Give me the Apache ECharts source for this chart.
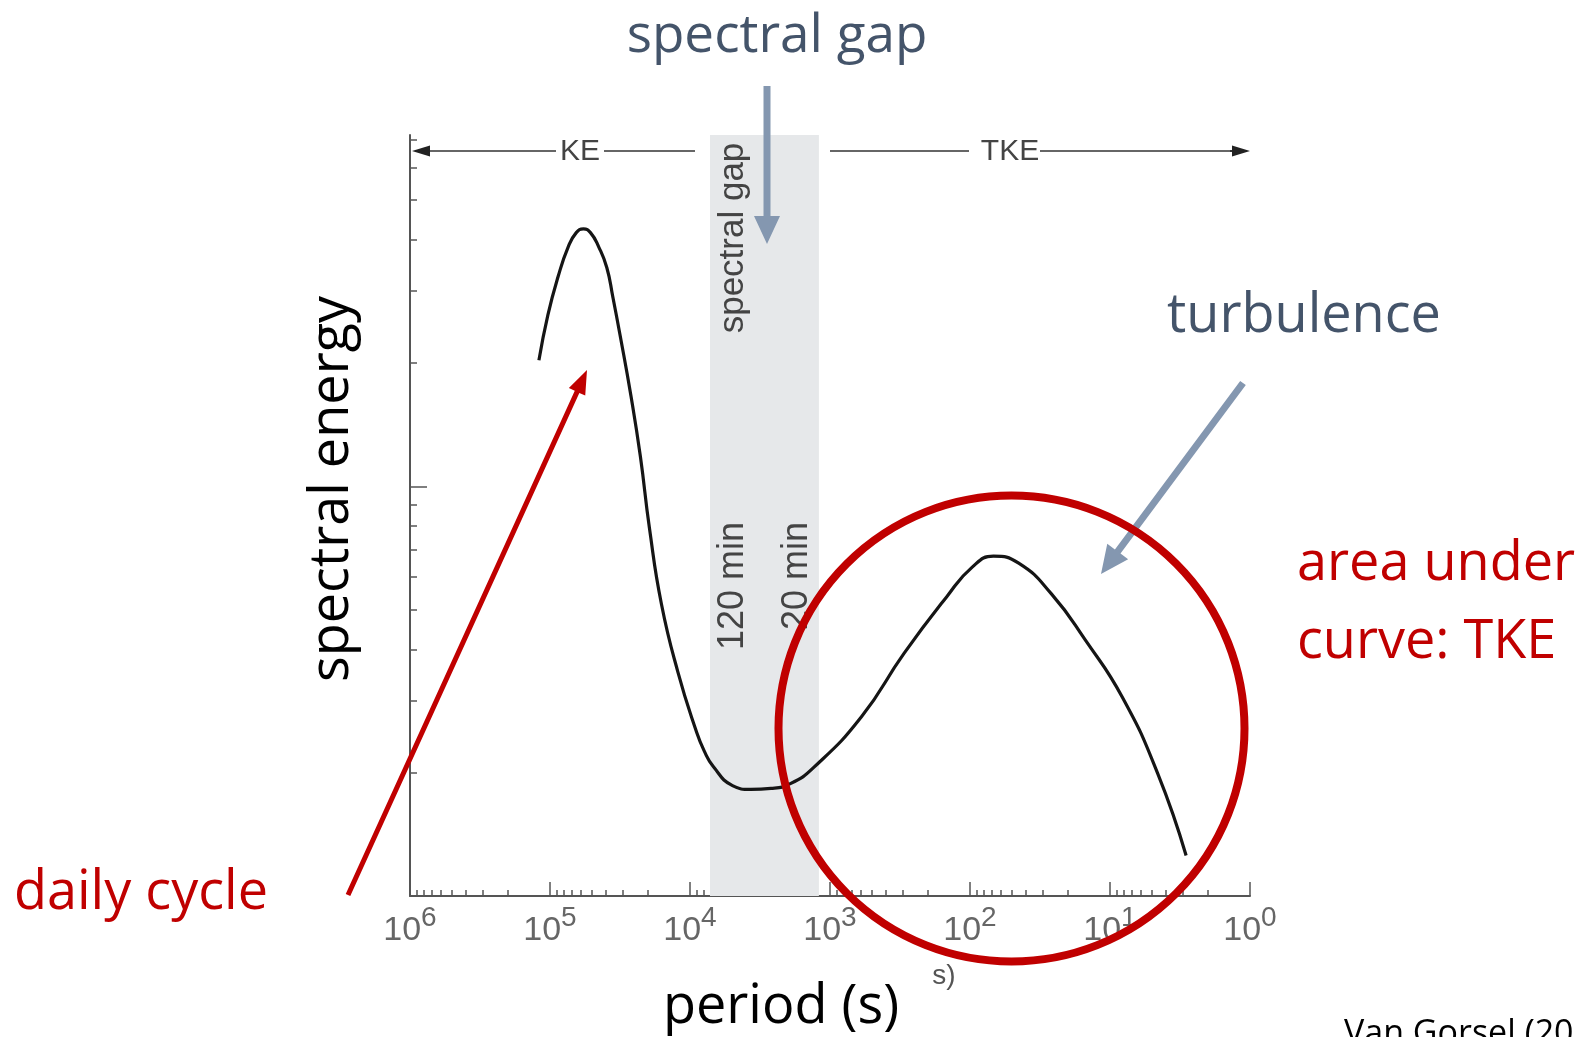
<!DOCTYPE html>
<html>
<head>
<meta charset="utf-8">
<script src="https://cdn.jsdelivr.net/npm/echarts@6/dist/echarts.min.js"></script>
<style>
    html, body { margin: 0; padding: 0; background: #fff; }
    #chart { width: 1591px; height: 1037px; }
</style>
</head>
<body>
<div id="chart"></div>
<script>
(function () {
    'use strict';

    // period (s) and spectral energy
    var periods = [120000, 103500, 87500, 74100, 64900, 57700, 51400, 44900, 39300, 35600,
        31600, 26400, 22600, 19500, 16000, 12200, 9040, 7920, 6820, 4970,
        3670, 2640, 1920, 1306, 596, 296, 147, 96.8, 68.1, 44.9,
        26.3, 14.9, 8.18, 4.56, 2.86];
    var energy = [20.3, 26.2, 32.5, 38.4, 41.6, 42.5, 41.6, 38.4, 34.2, 29.0,
        23.4, 16.6, 11.8, 7.92, 5.16, 3.52, 2.53, 2.26, 2.07, 1.86,
        1.82, 1.83, 1.88, 2.06, 2.74, 3.91, 5.37, 6.34, 6.75, 6.49,
        5.47, 4.20, 3.06, 1.99, 1.256];

    // spectral gap: 120 min .. 20 min
    var gapBand = [7200, 1200];

    var xDecades = [1000000, 100000, 10000, 1000, 100, 10, 1];
    var xMantissa = [2, 3, 4, 5, 6, 7, 8, 9];
    var yMajorTicks = [10];
    var yMinorTicks = [2, 3, 4, 5, 6, 7, 8, 9, 20, 30, 40, 50, 60, 70];

    var SLATE = '#44546A';
    var ARROW_BLUE = '#8497B0';
    var RED = '#C00000';
    var SCAN = '#444';

    var xMinorTicks = [];
    xDecades.forEach(function (d) {
        if (d >= 1000000) {
            return;
        }
        xMantissa.forEach(function (m) {
            xMinorTicks.push(m * d);
        });
    });

    var curve = periods.map(function (p, i) {
        return [p, energy[i]];
    });

    function arrowPoints(x1, y1, x2, y2, w, hw, hl) {
        var len = Math.sqrt((x2 - x1) * (x2 - x1) + (y2 - y1) * (y2 - y1));
        var ux = (x2 - x1) / len, uy = (y2 - y1) / len;
        var px = -uy, py = ux;
        var bx = x2 - ux * hl, by = y2 - uy * hl;
        return [
            [x1 + px * w / 2, y1 + py * w / 2],
            [bx + px * w / 2, by + py * w / 2],
            [bx + px * hw / 2, by + py * hw / 2],
            [x2, y2],
            [bx - px * hw / 2, by - py * hw / 2],
            [bx - px * w / 2, by - py * w / 2],
            [x1 - px * w / 2, y1 - py * w / 2]
        ];
    }

    function arrow(x1, y1, x2, y2, w, hw, hl, color) {
        return {
            type: 'polygon',
            z: 100,
            shape: { points: arrowPoints(x1, y1, x2, y2, w, hw, hl) },
            style: { fill: color, stroke: null }
        };
    }

    function label(text, x, y, size, color, opts) {
        opts = opts || {};
        return {
            type: 'text',
            z: opts.z || 100,
            x: x,
            y: y,
            rotation: opts.rotation || 0,
            style: {
                text: text,
                fill: color,
                fontSize: size,
                fontFamily: opts.family || '"Open Sans", sans-serif',
                align: opts.align || 'center',
                verticalAlign: opts.valign || 'middle'
            }
        };
    }

    function hline(x1, x2, y) {
        return {
            type: 'line',
            z: 50,
            shape: { x1: x1, y1: y, x2: x2, y2: y },
            style: { stroke: '#333', lineWidth: 1.6 }
        };
    }

    var scanFont = '"Liberation Sans", Arial, sans-serif';

    var graphics = [
        // KE / TKE row
        hline(420, 556, 151),
        arrow(430, 151, 412, 151, 1.6, 11, 18, '#222'),
        label('KE', 580, 152, 30, SCAN, { family: scanFont, z: 50 }),
        hline(604, 695, 151),
        hline(830, 969, 151),
        label('TKE', 1010, 152, 30, SCAN, { family: scanFont, z: 50 }),
        hline(1040, 1238, 151),
        arrow(1230, 151, 1250, 151, 1.6, 11, 18, '#222'),

        // texts inside the gap band
        label('spectral gap', 733, 238, 35, SCAN, { family: scanFont, rotation: Math.PI / 2, z: 5 }),
        label('120 min', 733, 522, 36, SCAN, { family: scanFont, rotation: Math.PI / 2, align: 'right', z: 5 }),
        label('20 min', 797, 522, 36, SCAN, { family: scanFont, rotation: Math.PI / 2, align: 'right', z: 5 }),

        // axis titles
        label('spectral energy', 333, 489, 54, '#000', { rotation: Math.PI / 2 }),
        label('period (s)', 781, 1008, 54, '#000'),
        label('s)', 944, 976, 28, '#555', { family: scanFont }),

        // annotations
        label('spectral gap', 777, 37, 53, SLATE),
        arrow(767, 86, 767, 244, 7, 26, 28, ARROW_BLUE),
        label('turbulence', 1304, 317, 54, SLATE),
        arrow(1243, 383, 1101, 574, 7, 26, 28, ARROW_BLUE),
        label('area under', 1297, 565, 54, RED, { align: 'left' }),
        label('curve: TKE', 1297, 643, 54, RED, { align: 'left' }),
        label('daily cycle', 141, 894, 54, RED),
        arrow(348, 895, 587, 370, 5, 18, 24, RED),
        {
            type: 'circle',
            z: 100,
            shape: { cx: 1011.5, cy: 728.5, r: 233 },
            style: { fill: null, stroke: RED, lineWidth: 8 }
        },
        label('Van Gorsel (20', 1344, 1034, 34, '#000', { align: 'left' })
    ];

    var axisLineStyle = { color: '#555', width: 2 };

    var option = {
        animation: false,
        backgroundColor: '#fff',
        grid: { left: 410, right: 341, top: 135, bottom: 141 },
        xAxis: [
            {
                type: 'log',
                logBase: 10,
                min: 1,
                max: 1000000,
                inverse: true,
                position: 'bottom',
                axisLine: { show: true, lineStyle: axisLineStyle },
                axisTick: { show: true, inside: true, length: 14, customValues: xDecades, lineStyle: { color: '#555', width: 1.5 } },
                axisLabel: {
                    show: true,
                    customValues: xDecades,
                    showMinLabel: true,
                    showMaxLabel: true,
                    margin: 8,
                    formatter: function (v) {
                        return '{b|10}{s|' + Math.round(Math.log(v) / Math.LN10) + '}';
                    },
                    rich: {
                        b: { fontSize: 34, fontFamily: scanFont, color: '#666', verticalAlign: 'bottom' },
                        s: { fontSize: 28, fontFamily: scanFont, color: '#666', verticalAlign: 'bottom', padding: [0, 0, 16, 0] }
                    }
                },
                splitLine: { show: false }
            },
            {
                type: 'log',
                logBase: 10,
                min: 1,
                max: 1000000,
                inverse: true,
                position: 'bottom',
                axisLine: { show: false },
                axisTick: { show: true, inside: true, length: 6, customValues: xMinorTicks, lineStyle: { color: '#555', width: 1.5 } },
                axisLabel: { show: false },
                splitLine: { show: false }
            }
        ],
        yAxis: [
            {
                type: 'log',
                logBase: 10,
                min: 1,
                max: 72,
                position: 'left',
                axisLine: { show: true, lineStyle: axisLineStyle },
                axisTick: { show: true, inside: true, length: 17, customValues: yMajorTicks, lineStyle: { color: '#555', width: 1.5 } },
                axisLabel: { show: false },
                splitLine: { show: false }
            },
            {
                type: 'log',
                logBase: 10,
                min: 1,
                max: 72,
                position: 'left',
                axisLine: { show: false },
                axisTick: { show: true, inside: true, length: 7, customValues: yMinorTicks, lineStyle: { color: '#555', width: 1.5 } },
                axisLabel: { show: false },
                splitLine: { show: false }
            }
        ],
        series: [
            {
                type: 'line',
                xAxisIndex: 0,
                yAxisIndex: 0,
                data: curve,
                smooth: 0.5,
                symbol: 'none',
                lineStyle: { color: '#151515', width: 3.2 },
                z: 4,
                markArea: {
                    silent: true,
                    itemStyle: { color: '#e6e8ea' },
                    data: [[{ xAxis: gapBand[0] }, { xAxis: gapBand[1] }]]
                }
            }
        ],
        graphic: graphics
    };

    var chart = echarts.init(document.getElementById('chart'), null, { renderer: 'canvas' });
    chart.setOption(option);
})();
</script>
</body>
</html>
